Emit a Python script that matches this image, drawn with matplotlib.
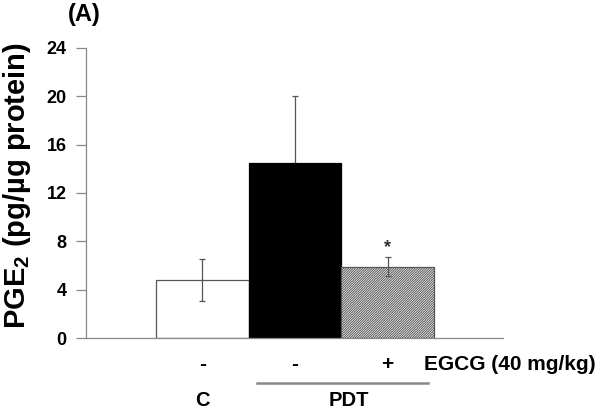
import matplotlib
matplotlib.use("Agg")
import matplotlib.pyplot as plt
import numpy as np

plt.rcParams['font.family'] = ['Liberation Sans', 'DejaVu Sans']
plt.rcParams['mathtext.fontset'] = 'custom'
plt.rcParams['mathtext.rm'] = 'Liberation Sans'
plt.rcParams['mathtext.bf'] = 'Liberation Sans:bold'
plt.rcParams['hatch.color'] = '#444444'
plt.rcParams['hatch.linewidth'] = 0.7

groups = ["C", "PDT", "PDT+EGCG"]
values = [4.8, 14.5, 5.9]
errors = [1.7, 5.5, 0.8]
egcg_labels = ["-", "-", "+"]
yticks = [0, 4, 8, 12, 16, 20, 24]

fig = plt.figure(figsize=(6.0, 4.15), dpi=100)
ax = fig.add_axes([0.1433, 0.1855, 0.695, 0.699])

x = np.arange(len(values))
w = 1.0
faces = ["white", "black", "white"]
hatches = [None, None, "//////////////"]
edges = ["#555555", "black", "#555555"]
for i in range(len(values)):
    ax.bar(x[i], values[i], width=w, color=faces[i], edgecolor=edges[i],
           hatch=hatches[i], linewidth=0.9, zorder=2)
for i in range(len(values)):
    ax.errorbar(x[i], values[i], yerr=errors[i], fmt='none', ecolor='#555555',
                elinewidth=0.9, capsize=2.5, capthick=0.9,
                zorder=1 if faces[i] == "black" else 3)
ax.text(x[2], values[2] + errors[2] + 0.1, "*", ha='center', va='bottom',
        fontsize=13, fontweight='bold', color='#333333')

ax.set_xlim(-1.255, 3.245)
ax.set_ylim(0, 24)
ax.set_yticks(yticks)
ax.set_yticklabels([str(t) for t in yticks], fontsize=13, fontweight='bold')
ax.set_xticks([])
for s in ['top', 'right']:
    ax.spines[s].set_visible(False)
for s in ['left', 'bottom']:
    ax.spines[s].set_color('#888888')
    ax.spines[s].set_linewidth(0.9)
ax.tick_params(axis='y', direction='out', length=7, color='#888888', width=0.9, pad=7)
ax.set_ylabel("PGE$_\\mathbf{2}$ (pg/µg protein)", fontsize=21, fontweight='bold')
ax.yaxis.label.set_verticalalignment('center')
ax.yaxis.set_label_coords(-0.166, 0.525)

# Below-axis labels
trans = ax.get_xaxis_transform()
for i, lab in enumerate(egcg_labels):
    ax.text(x[i], -0.093, lab, transform=trans, ha='center', va='center',
            fontsize=15, fontweight='bold')
ax.text(2.392, -0.093, "EGCG (40 mg/kg)", transform=trans, ha='left', va='center',
        fontsize=15, fontweight='bold')
ax.plot([0.586, 2.435], [-0.155, -0.155], transform=trans, color='#888888',
        lw=1.8, clip_on=False)
ax.text(x[0], -0.217, "C", transform=trans, ha='center', va='center',
        fontsize=14.5, fontweight='bold')
ax.text(1.586, -0.217, "PDT", transform=trans, ha='center', va='center',
        fontsize=14.5, fontweight='bold')

fig.text(0.141, 0.966, "(A)", ha='center', va='center', fontsize=17, fontweight='bold')

fig.savefig("out.png", dpi=100)
